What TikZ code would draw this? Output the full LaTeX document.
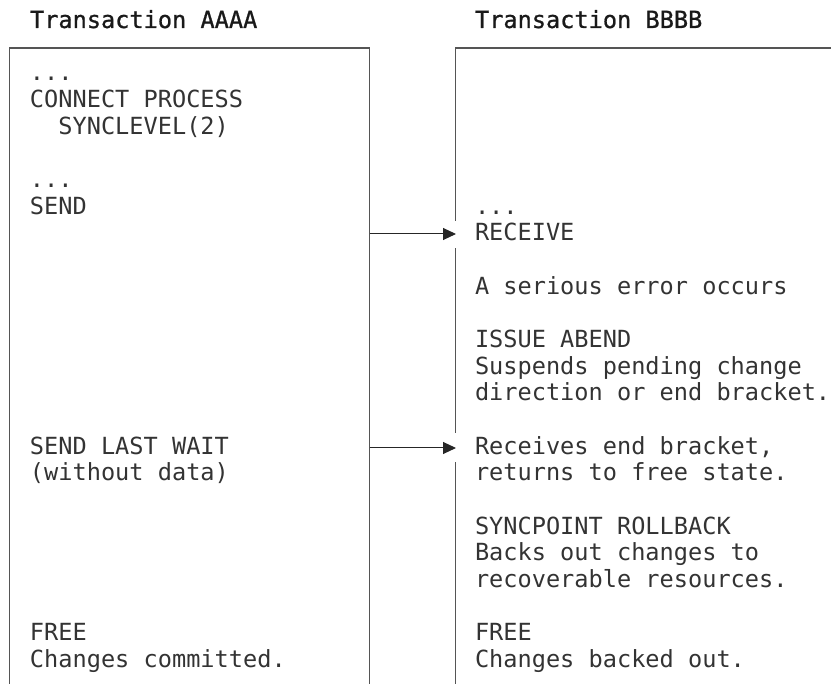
\documentclass[tikz,border=0pt]{standalone}
\usepackage{fontspec}
\setmonofont{DejaVu Sans Mono}
\newfontfamily\ttlfont[FakeBold=0.9]{DejaVu Sans Mono}
\usetikzlibrary{arrows.meta}
\definecolor{ink}{HTML}{333333}
\definecolor{rule}{HTML}{555555}
\tikzset{
  body/.style={anchor=base west, inner sep=0pt, outer sep=0pt, text=ink,
    font=\ttfamily\fontsize{23.6}{26.65}\selectfont},
  ttl/.style={anchor=base west, inner sep=0pt, outer sep=0pt, text=black!90,
    font=\ttlfont\fontsize{23.6}{26.65}\selectfont},
  frame/.style={draw=rule, line width=1.2pt},
  msg/.style={draw=black!85, line width=1pt, -{Triangle[length=13pt,width=12pt]}},
}
\newcommand{\yk}[1]{81+26.65*#1}
\begin{document}
\begin{tikzpicture}[x=1pt,y=-1pt]
\useasboundingbox (0,0) rectangle (831,684);
% titles
\node[ttl] (tA) at (30,28) {Transaction AAAA};
\node[ttl] (tB) at (475,28) {Transaction BBBB};
% frames
\coordinate (Abl) at (9.5,690);
\coordinate (Atl) at (9.5,48);
\coordinate (Atr) at (369.5,48);
\coordinate (Abr) at (369.5,690);
\draw[frame] (Abl) -- (Atl) -- (Atr) -- (Abr);
\coordinate (Bbot) at (455.5,690);
\coordinate (Bg2b) at (455.5,462);
\coordinate (Bg2t) at (455.5,433);
\coordinate (Bg1b) at (455.5,248);
\coordinate (Bg1t) at (455.5,221);
\coordinate (Btl) at (455.5,48);
\coordinate (Btr) at (840,48);
\draw[frame] (Bbot) -- (Bg2b);
\draw[frame] (Bg2t) -- (Bg1b);
\draw[frame] (Bg1t) -- (Btl) -- (Btr);
% left column
\node[body] (a0) at (30,{\yk{0}}) {...};
\node[body] (a1) at (30,{\yk{1}}) {CONNECT PROCESS};
\node[body] (a2) at (58.4,{\yk{2}}) {SYNCLEVEL(2)};
\node[body] (a4) at (30,{\yk{4}}) {...};
\node[body] (a5) at (30,{\yk{5}}) {SEND};
\node[body] (a14) at (30,{\yk{14}}) {SEND LAST WAIT};
\node[body] (a15) at (30,{\yk{15}}) {(without data)};
\node[body] (a21) at (30,{\yk{21}}) {FREE};
\node[body] (a22) at (30,{\yk{22}}) {Changes committed.};
% right column
\node[body] (b5) at (475,{\yk{5}}) {...};
\node[body] (b6) at (475,{\yk{6}}) {RECEIVE};
\node[body] (b8) at (475,{\yk{8}}) {A serious error occurs};
\node[body] (b10) at (475,{\yk{10}}) {ISSUE ABEND};
\node[body] (b11) at (475,{\yk{11}}) {Suspends pending change};
\node[body] (b12) at (475,{\yk{12}}) {direction or end bracket.};
\node[body] (b14) at (475,{\yk{14}}) {Receives end bracket,};
\node[body] (b15) at (475,{\yk{15}}) {returns to free state.};
\node[body] (b17) at (475,{\yk{17}}) {SYNCPOINT ROLLBACK};
\node[body] (b18) at (475,{\yk{18}}) {Backs out changes to};
\node[body] (b19) at (475,{\yk{19}}) {recoverable resources.};
\node[body] (b21) at (475,{\yk{21}}) {FREE};
\node[body] (b22) at (475,{\yk{22}}) {Changes backed out.};
% messages
\coordinate (s1) at (369.5,234);
\coordinate (r1) at (456,234);
\coordinate (s2) at (369.5,448);
\coordinate (r2) at (456,448);
\draw[msg] (s1) -- (r1);
\draw[msg] (s2) -- (r2);
\end{tikzpicture}
\end{document}
